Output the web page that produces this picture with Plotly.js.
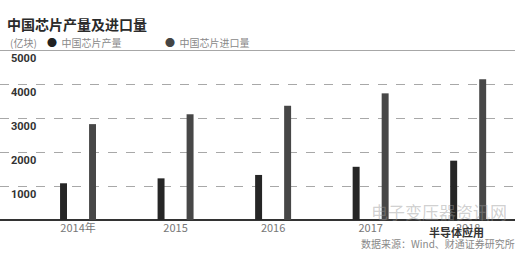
<!DOCTYPE html>
<html>
<head>
<meta charset="utf-8">
<script src="https://cdn.plot.ly/plotly-3.0.1.min.js"></script>
<style>
html,body{margin:0;padding:0;background:#fff;}
#chart{width:530px;height:259px;}
</style>
</head>
<body>
<div id="chart"></div>
<script>
const categories = ["2014年", "2015", "2016", "2017", "2018"];
const production = [1080, 1225, 1325, 1565, 1745];
const imports = [2820, 3110, 3360, 3725, 4140];
const yTicks = [1000, 2000, 3000, 4000, 5000];
const seriesNames = ["中国芯片产量", "中国芯片进口量"];

const CJK = "Noto Sans CJK SC, Noto Sans, sans-serif";
const W = 530, H = 259;
const M = {l: 0, r: 15, t: 50, b: 39, pad: 0, autoexpand: false};
const PW = W - M.l - M.r, PH = H - M.t - M.b;
const px = x => (x - M.l) / PW;
const py = y => (H - M.b - y) / PH;

const traces = [
  {type: "bar", name: seriesNames[0], x: categories, y: production,
   marker: {color: "#262626"}, hoverinfo: "skip"},
  {type: "bar", name: seriesNames[1], x: categories, y: imports,
   marker: {color: "#474747"}, hoverinfo: "skip"}
];

const layout = {
  width: W, height: H,
  margin: M,
  paper_bgcolor: "#fff", plot_bgcolor: "#fff",
  showlegend: false,
  barmode: "group",
  bargap: 0.405,
  bargroupgap: 0.76,
  title: {
    text: "<b>中国芯片产量及进口量</b>",
    font: {family: CJK, size: 14, color: "#2a2a2a"},
    x: 7 / W, xanchor: "left", xref: "container",
    y: 1 - 25 / H, yanchor: "middle", yref: "container",
    automargin: false
  },
  xaxis: {
    type: "category",
    range: [-0.8, 4.48],
    tickmode: "array", tickvals: categories, ticktext: categories,
    automargin: false,
    showgrid: false, zeroline: false, showline: false,
    ticks: "",
    tickfont: {family: CJK, size: 11, color: "#777"},
    fixedrange: true
  },
  yaxis: {
    range: [0, 5000],
    tickmode: "array",
    tickvals: yTicks,
    ticktext: yTicks.map(String),
    automargin: false,
    ticklabelposition: "inside bottom",
    ticklabelstandoff: 8,
    tickfont: {family: "Roboto, sans-serif", size: 11, color: "#333", weight: "bold"},
    showgrid: true, gridcolor: "#a8a8a8", griddash: "dash", gridwidth: 1,
    zeroline: true, zerolinecolor: "#333", zerolinewidth: 1.5,
    showline: false, ticks: "",
    fixedrange: true
  },
  shapes: [
    {type: "line", xref: "paper", yref: "y", x0: 0, x1: 1, y0: 5000, y1: 5000,
     line: {color: "#8a8a8a", width: 1.5}}
  ],
  annotations: [
    {xref: "paper", yref: "paper", x: px(8), y: py(43), xanchor: "left", yanchor: "middle",
     text: "(亿块)", showarrow: false, font: {family: CJK, size: 10, color: "#888"}},
    {xref: "paper", yref: "paper", x: px(45), y: py(43), xanchor: "left", yanchor: "middle",
     text: '<span style="color:#222">●</span>  ' + seriesNames[0], showarrow: false,
     font: {family: CJK, size: 10, color: "#888"}},
    {xref: "paper", yref: "paper", x: px(163), y: py(43), xanchor: "left", yanchor: "middle",
     text: '<span style="color:#444">●</span>  ' + seriesNames[1], showarrow: false,
     font: {family: CJK, size: 10, color: "#888"}},
    {xref: "paper", yref: "paper", x: px(369), y: py(211), xanchor: "left", yanchor: "middle",
     text: "电子变压器资讯网", showarrow: false,
     font: {family: CJK, size: 17, color: "rgba(150,150,150,0.45)"}},
    {xref: "paper", yref: "paper", x: px(427), y: py(232), xanchor: "left", yanchor: "middle",
     text: "<b>半导体应用</b>", showarrow: false,
     font: {family: CJK, size: 11, color: "#333"}},
    {xref: "paper", yref: "paper", x: px(517), y: py(243), xanchor: "right", yanchor: "middle",
     text: "数据来源：Wind、财通证券研究所", showarrow: false,
     font: {family: CJK, size: 10, color: "#888"}}
  ]
};

Plotly.newPlot("chart", traces, layout, {displayModeBar: false, staticPlot: true});
</script>
</body>
</html>
